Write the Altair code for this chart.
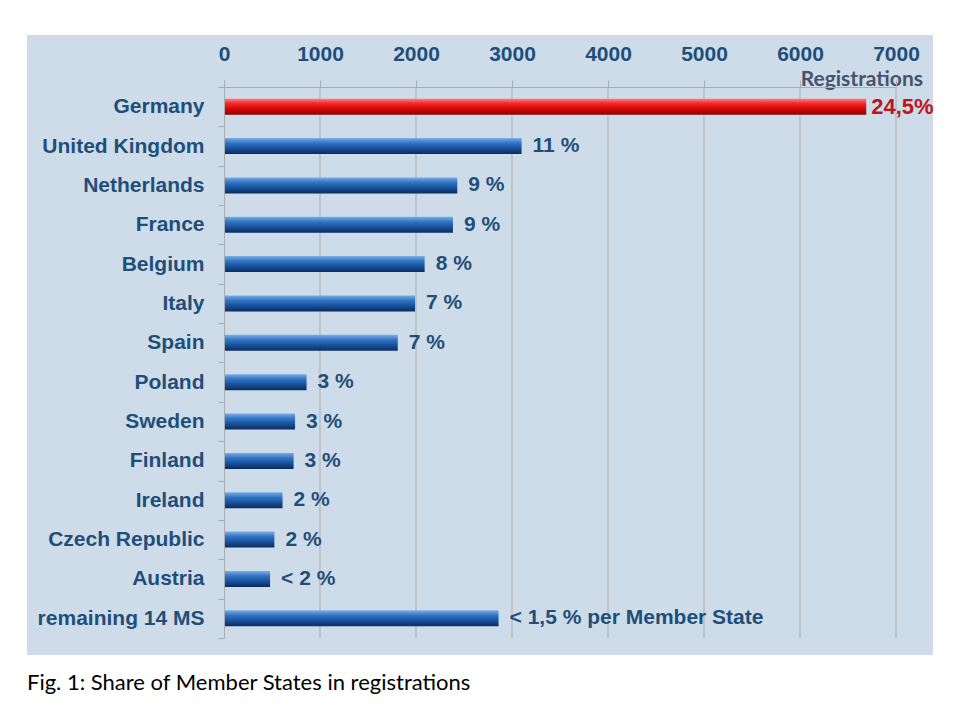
import altair as alt
import pandas as pd

# ---- data ----
countries = ["Germany", "United Kingdom", "Netherlands", "France", "Belgium", "Italy",
             "Spain", "Poland", "Sweden", "Finland", "Ireland", "Czech Republic",
             "Austria", "remaining 14 MS"]
registrations = [6690, 3100, 2430, 2385, 2090, 1990, 1810, 860, 740, 725, 610, 525, 480, 2860]
share_labels = ["24,5%", "11 %", "9 %", "9 %", "8 %", "7 %", "7 %", "3 %", "3 %", "3 %",
                "2 %", "2 %", "< 2 %", "< 1,5 % per Member State"]
highlight = "Germany"
x_ticks = [0, 1000, 2000, 3000, 4000, 5000, 6000, 7000]
axis_title = "Registrations"
caption = "Fig. 1: Share of Member States in registrations"

df = pd.DataFrame({"country": countries, "registrations": registrations, "label": share_labels})
ticks_df = pd.DataFrame({"tick": x_ticks[1:]})

W, H = 672, 551
PANEL = "#cedcea"
GRID = "#a9adb2"
TEXT = "#1f4e79"
FONT = "Liberation Sans"

x_scale = alt.Scale(domain=[0, 7000], nice=False, zero=True)
x_axis = alt.Axis(orient="top", values=x_ticks, format="d", title=None, labelFont=FONT,
                  labelFontSize=21, labelFontWeight="bold", labelColor=TEXT, tickSize=7,
                  tickColor=GRID, domainColor=GRID, labelPadding=16, grid=False, zindex=1,
                  labelFlush=False, labelOverlap=False)
y_enc = alt.Y("country:N", sort=countries,
              scale=alt.Scale(paddingInner=0, paddingOuter=0),
              axis=alt.Axis(title=None, orient="left", labelFont=FONT, labelFontSize=21,
                            labelFontWeight="bold", labelColor=TEXT, labelPadding=14,
                            tickSize=6, tickColor=GRID, domainColor=GRID, tickBand="extent",
                            zindex=1, grid=False, labelLimit=400))
x_enc = alt.X("registrations:Q", scale=x_scale, axis=x_axis)

blue_grad = alt.LinearGradient(
    gradient="linear", x1=0, x2=0, y1=0, y2=1,
    stops=[alt.GradientStop(offset=0, color="#79aee6"),
           alt.GradientStop(offset=0.3, color="#3377c4"),
           alt.GradientStop(offset=0.6, color="#1b55a2"),
           alt.GradientStop(offset=1, color="#0a2c5e")])
red_grad = alt.LinearGradient(
    gradient="linear", x1=0, x2=0, y1=0, y2=1,
    stops=[alt.GradientStop(offset=0, color="#ff8080"),
           alt.GradientStop(offset=0.3, color="#f22a2a"),
           alt.GradientStop(offset=0.6, color="#d80a0a"),
           alt.GradientStop(offset=1, color="#8e0000")])

panel = alt.Chart(pd.DataFrame({"p": [0]})).mark_rect(color=PANEL).encode(
    x=alt.value(-197), x2=alt.value(709), y=alt.value(-52), y2=alt.value(568))

grid = alt.Chart(ticks_df).mark_rule(color=GRID, strokeWidth=1).encode(
    x=alt.X("tick:Q", scale=x_scale, axis=x_axis))

base = alt.Chart(df)
blue_bars = base.transform_filter(alt.datum.country != highlight).mark_bar(
    size=16, color=blue_grad).encode(x=x_enc, y=y_enc)
red_bars = base.transform_filter(alt.datum.country == highlight).mark_bar(
    size=16, color=red_grad).encode(x=x_enc, y=y_enc)

blue_text = base.transform_filter(alt.datum.country != highlight).mark_text(
    align="left", baseline="middle", dx=11, font=FONT, fontSize=21, fontWeight="bold",
    color=TEXT).encode(x=x_enc, y=y_enc, text="label:N")
red_text = base.transform_filter(alt.datum.country == highlight).mark_text(
    align="left", baseline="middle", dx=5, font=FONT, fontSize=22, fontWeight="bold",
    color="#c0141c").encode(x=x_enc, y=y_enc, text="label:N")

reg_title = alt.Chart(pd.DataFrame({"t": [axis_title]})).mark_text(
    align="right", baseline="middle", font="Lato", fontSize=21, fontWeight="bold",
    color="#44546a").encode(text="t:N", x=alt.value(699), y=alt.value(-7))

cap = alt.Chart(pd.DataFrame({"t": [caption]})).mark_text(
    align="left", baseline="middle", font="Lato", fontSize=22, color="#000000").encode(
    text="t:N", x=alt.value(-197), y=alt.value(596))

chart = alt.layer(panel, grid, blue_bars, red_bars, blue_text, red_text, reg_title, cap).properties(
    width=W, height=H,
    autosize=alt.AutoSizeParams(type="none"),
    padding={"left": 216, "top": 79, "right": 56, "bottom": 74},
    background="white",
).configure_view(stroke=None)

chart.save("out.html", embed_options={"renderer": "svg", "actions": False})
